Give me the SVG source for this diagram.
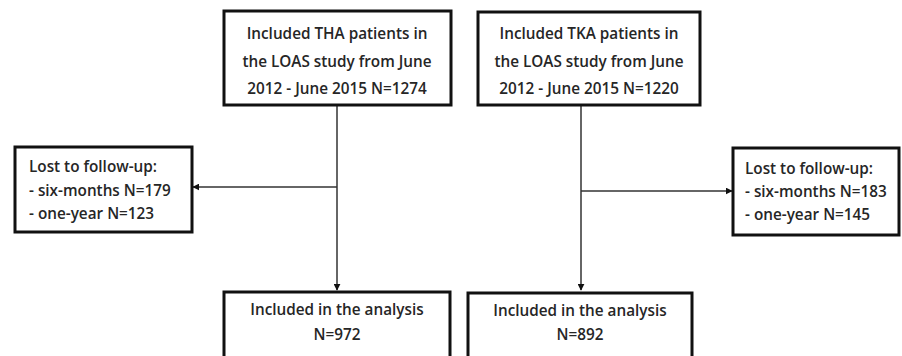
<svg xmlns="http://www.w3.org/2000/svg" width="902" height="356" viewBox="0 0 902 356">
<defs>
<style>
.box{fill:#ffffff;stroke:#111;stroke-width:3}
.t{font-family:"Open Sans","Liberation Sans",sans-serif;font-weight:600;font-size:15.3px;fill:#262626}
.c{text-anchor:middle}
.ln{stroke:#333;stroke-width:1.5;fill:none}
</style>
<marker id="ah" viewBox="0 0 10 10" refX="9" refY="5" markerWidth="7" markerHeight="7" orient="auto" markerUnits="userSpaceOnUse">
<path d="M0,0 L10,5 L0,10 z" fill="#111"/>
</marker>
</defs>
<rect width="902" height="356" fill="#ffffff"/>
<g id="connectors">
<line class="ln" x1="337" y1="106" x2="337" y2="290" marker-end="url(#ah)"/>
<line class="ln" x1="337" y1="187" x2="193" y2="187" marker-end="url(#ah)"/>
<line class="ln" x1="581" y1="106" x2="581" y2="290" marker-end="url(#ah)"/>
<line class="ln" x1="581" y1="191" x2="732" y2="191" marker-end="url(#ah)"/>
</g>
<g id="tha">
<rect class="box" x="224" y="11" width="227" height="94"/>
<text class="t c" x="337" y="39">Included THA patients in</text>
<text class="t c" x="337" y="67">the LOAS study from June</text>
<text class="t c" x="337" y="94">2012 - June 2015 N=1274</text>
</g>
<g id="tka">
<rect class="box" x="478" y="12" width="222" height="93"/>
<text class="t c" x="589" y="39">Included TKA patients in</text>
<text class="t c" x="589" y="67">the LOAS study from June</text>
<text class="t c" x="589" y="94">2012 - June 2015 N=1220</text>
</g>
<g id="lost-tha">
<rect class="box" x="15" y="147" width="177" height="85"/>
<text class="t" x="29" y="172">Lost to follow-up:</text>
<text class="t" x="29" y="196">- six-months N=179</text>
<text class="t" x="29" y="219">- one-year N=123</text>
</g>
<g id="lost-tka">
<rect class="box" x="733" y="148" width="166" height="87"/>
<text class="t" x="745" y="174">Lost to follow-up:</text>
<text class="t" x="745" y="197">- six-months N=183</text>
<text class="t" x="745" y="220">- one-year N=145</text>
</g>
<g id="analysis-tha">
<rect class="box" x="224" y="292" width="226" height="80"/>
<text class="t c" x="337" y="315">Included in the analysis</text>
<text class="t c" x="337" y="340">N=972</text>
</g>
<g id="analysis-tka">
<rect class="box" x="468" y="293" width="224" height="80"/>
<text class="t c" x="580" y="316">Included in the analysis</text>
<text class="t c" x="580" y="340">N=892</text>
</g>
</svg>
